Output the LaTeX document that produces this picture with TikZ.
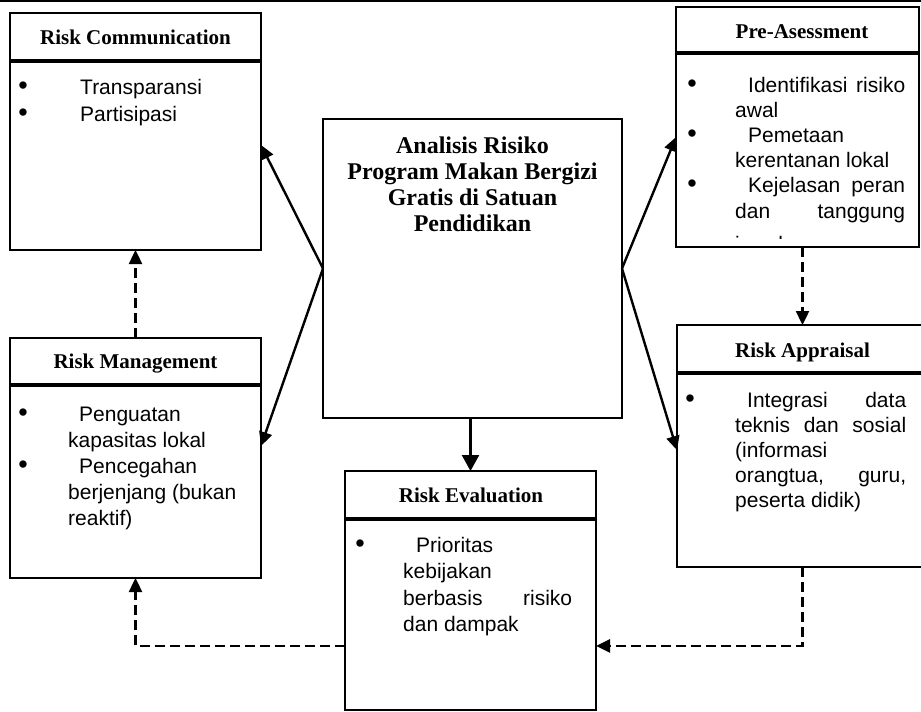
\documentclass[tikz,border=0pt]{standalone}
\usepackage{fontspec}
\setmainfont{Liberation Serif}
\newfontfamily\arialf{Liberation Sans}
\usetikzlibrary{arrows.meta,calc}
\begin{document}
\begin{tikzpicture}[x=1pt,y=-1pt,
  box/.style={draw, line width=2.8pt, anchor=north west, inner sep=0pt, outer sep=0pt},
  hd/.style={font=\bfseries\fontsize{21}{24}\selectfont, anchor=base, inner sep=0pt},
  bd/.style={font=\arialf\fontsize{21}{24}\selectfont, anchor=base west, inner sep=0pt},
  bul/.style={font=\arialf\fontsize{27}{27}\selectfont, anchor=center, inner sep=0pt},
  tt/.style={font=\bfseries\fontsize{24}{26}\selectfont, anchor=base, inner sep=0pt},
  dv/.style={line width=4pt},
  arr/.style={line width=2.4pt, -{Triangle[length=14pt,width=13pt]}},
  darr/.style={arr, dash pattern=on 10pt off 5pt}]
\useasboundingbox (0,0) rectangle (921,712);
\clip (0,0) rectangle (921,712);
\draw[line width=1.6pt] (0,1) -- (921,1);

% boxes
\node[box, minimum width=251pt, minimum height=237pt] (rc) at (10,13) {};
\node[box, minimum width=251pt, minimum height=240pt] (rm) at (10,338) {};
\node[box, minimum width=243pt, minimum height=240pt] (pa) at (676,7) {};
\node[box, minimum width=251pt, minimum height=242pt] (ra) at (677,325) {};
\node[box, minimum width=251pt, minimum height=239pt] (re) at (345,471) {};
\node[box, line width=2.6pt, minimum width=299pt, minimum height=299pt] (ce) at (323,119) {};

% header dividers
\draw[dv] (10,61) -- (261,61);
\draw[dv] (10,385) -- (261,385);
\draw[dv] (676,53) -- (919,53);
\draw[dv] (677,373) -- (928,373);
\draw[dv] (345,519) -- (596,519);

% headers
\node[hd] (rch) at (135.5,44) {Risk Communication};
\node[hd] (rmh) at (135.5,368) {Risk Management};
\node[hd] (pah) at (802,38) {Pre-Asessment};
\node[hd] (rah) at (802.5,357) {Risk Appraisal};
\node[hd] (reh) at (471,502) {Risk Evaluation};

% centre title
\node[tt] (t1) at (472.5,153) {Analisis Risiko};
\node[tt] (t2) at (472.5,179) {Program Makan Bergizi};
\node[tt] (t3) at (472.5,205) {Gratis di Satuan};
\node[tt] (t4) at (472.5,231) {Pendidikan};

% Risk Communication body
\node[bul] (rcb1) at (23,88) {•};
\node[bd] (rc1) at (80,94) {Transparansi};
\node[bul] (rcb2) at (23,115) {•};
\node[bd] (rc2) at (80,121) {Partisipasi};

% Risk Management body
\node[bul] (rmb1) at (23,415) {•};
\node[bd] (rm1) at (79,421) {Penguatan};
\node[bd] (rm2) at (68,447) {kapasitas lokal};
\node[bul] (rmb2) at (23,467) {•};
\node[bd] (rm3) at (79,473) {Pencegahan};
\node[bd] (rm4) at (68,499) {berjenjang (bukan};
\node[bd] (rm5) at (68,525) {reaktif)};

% Pre-Asessment body (clipped)
\begin{scope}
\clip (676,55) rectangle (919,238);
\node[bul] (pab1) at (692,86) {•};
\node[bd] (pa1) at (748,92) {\hbox to 157pt{Identifikasi\hfill risiko}};
\node[bd] (pa2) at (735,117) {awal};
\node[bul] (pab2) at (692,136) {•};
\node[bd] (pa3) at (748,142) {Pemetaan};
\node[bd] (pa4) at (735,167) {kerentanan lokal};
\node[bul] (pab3) at (692,186) {•};
\node[bd] (pa5) at (748,192) {\hbox to 157pt{Kejelasan\hfill peran}};
\node[bd] (pa6) at (735,218) {\hbox to 170pt{dan\hfill tanggung}};
\node[bd] (pa7) at (735,251) {jawab};
\end{scope}

% Risk Appraisal body
\node[bul] (rab1) at (690,401) {•};
\node[bd] (ra1) at (747,407) {\hbox to 159pt{Integrasi\hfill data}};
\node[bd] (ra2) at (735,432) {\hbox to 171pt{teknis\hfill dan\hfill sosial}};
\node[bd] (ra3) at (735,457) {(informasi};
\node[bd] (ra4) at (735,482) {\hbox to 171pt{orangtua,\hfill guru,}};
\node[bd] (ra5) at (735,507) {peserta didik)};

% Risk Evaluation body
\node[bul] (reb1) at (360,546) {•};
\node[bd] (re1) at (416,552) {Prioritas};
\node[bd] (re2) at (403,578) {kebijakan};
\node[bd] (re3) at (403,605) {\hbox to 169pt{berbasis\hfill risiko}};
\node[bd] (re4) at (403,631) {dan dampak};

% connector points
\coordinate (rcE) at ($(rc.north east)!0.557!(rc.south east)$);
\coordinate (rmE) at ($(rm.north east)!0.45!(rm.south east)$);
\coordinate (paW) at ($(pa.north west)!0.542!(pa.south west)$);
\coordinate (raW) at ($(ra.north west)!0.517!(ra.south west)$);
\coordinate (reE) at ($(re.north east)!0.732!(re.south east)$);
\coordinate (reW) at ($(re.north west)!0.732!(re.south west)$);

% solid arrows
\draw[arr] (ce.west) -- (rcE);
\draw[arr] (ce.west) -- (rmE);
\draw[arr] (ce.east) -- (paW);
\draw[arr] (ce.east) -- (raW);
\draw[arr, -{Triangle[length=16pt,width=17pt]}] (ce.south -| re.north) -- (re.north);

% dashed arrows
\draw[darr] (rm.north) -- (rc.south);
\draw[darr] (ra.north |- pa.south) -- (ra.north);
\draw[darr] (ra.south) |- (reE);
\draw[darr] (reW) -| (rm.south);
\end{tikzpicture}
\end{document}
